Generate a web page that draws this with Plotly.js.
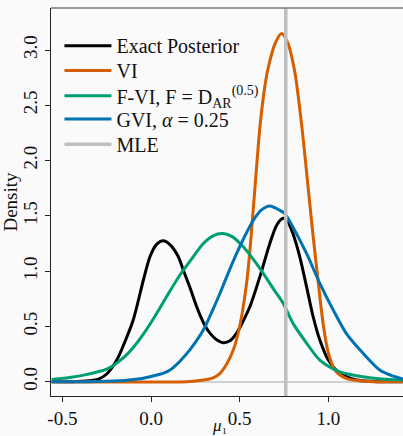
<!DOCTYPE html>
<html>
<head>
<meta charset="utf-8">
<script src="https://cdn.plot.ly/plotly-3.0.1.min.js"></script>
<style>
  html, body { margin: 0; padding: 0; background: #fafafa; }
  #chart { width: 403px; height: 436px; }
</style>
</head>
<body>
<div id="chart"></div>
<script>
// ---- Data ----
const exactX = [-0.56, -0.45, -0.35, -0.30, -0.25, -0.193, -0.15, -0.10, -0.043, -0.006, 0.03, 0.069, 0.107, 0.154, 0.182, 0.22, 0.257, 0.30, 0.332, 0.37, 0.407, 0.445, 0.483, 0.52, 0.558, 0.614, 0.67, 0.71, 0.745, 0.77, 0.80, 0.839, 0.877, 0.914, 0.952, 1.0, 1.065, 1.16, 1.25, 1.42];
const exactY = [0.0, 0.001, 0.008, 0.02, 0.07, 0.196, 0.35, 0.56, 0.92, 1.13, 1.24, 1.275, 1.24, 1.13, 1.01, 0.85, 0.68, 0.52, 0.44, 0.38, 0.353, 0.37, 0.44, 0.55, 0.68, 0.95, 1.25, 1.42, 1.478, 1.45, 1.34, 1.13, 0.86, 0.59, 0.377, 0.196, 0.076, 0.015, 0.003, 0.0];

const viX = [-0.56, 0.2, 0.295, 0.35, 0.389, 0.43, 0.464, 0.50, 0.539, 0.558, 0.573, 0.586, 0.614, 0.64, 0.661, 0.70, 0.736, 0.77, 0.811, 0.849, 0.877, 0.896, 0.914, 0.943, 0.971, 1.0, 1.037, 1.10, 1.2, 1.42];
const viY = [0.0, 0.001, 0.015, 0.035, 0.076, 0.17, 0.287, 0.50, 0.89, 1.19, 1.49, 1.75, 2.30, 2.65, 2.84, 3.06, 3.15, 3.07, 2.80, 2.33, 1.90, 1.60, 1.32, 0.90, 0.52, 0.26, 0.106, 0.03, 0.005, 0.0];

const fviX = [-0.56, -0.45, -0.38, -0.30, -0.25, -0.21, -0.15, -0.10, -0.05, -0.006, 0.04, 0.088, 0.163, 0.22, 0.295, 0.35, 0.407, 0.46, 0.52, 0.58, 0.633, 0.69, 0.745, 0.80, 0.877, 0.952, 1.065, 1.196, 1.30, 1.42];
const fviY = [0.02, 0.04, 0.06, 0.09, 0.115, 0.15, 0.225, 0.31, 0.415, 0.52, 0.64, 0.77, 0.965, 1.09, 1.25, 1.32, 1.34, 1.31, 1.22, 1.10, 0.98, 0.84, 0.71, 0.53, 0.35, 0.196, 0.09, 0.045, 0.025, 0.015];

const gviX = [-0.56, -0.3, -0.15, -0.05, -0.006, 0.05, 0.088, 0.107, 0.13, 0.163, 0.22, 0.295, 0.34, 0.389, 0.44, 0.483, 0.53, 0.577, 0.62, 0.67, 0.727, 0.755, 0.80, 0.877, 0.952, 1.027, 1.10, 1.196, 1.29, 1.35, 1.42];
const gviY = [0.0, 0.003, 0.012, 0.03, 0.045, 0.068, 0.09, 0.106, 0.135, 0.185, 0.29, 0.467, 0.62, 0.80, 1.0, 1.16, 1.32, 1.46, 1.55, 1.59, 1.55, 1.52, 1.40, 1.16, 0.89, 0.65, 0.44, 0.257, 0.106, 0.06, 0.025];

const mleValue = 0.76;

const seriesNames = ["Exact Posterior", "VI", "F-VI, F = D<sub>AR</sub><sup>(0.5)</sup>", "GVI, <i>α</i> = 0.25", "MLE"];
const xTitle = "<i>μ</i>₁";
const yTitle = "Density";
const xTickVals = [-0.5, 0.0, 0.5, 1.0];
const xTickText = ["-0.5", "0.0", "0.5", "1.0"];
const yTickVals = [0.0, 0.5, 1.0, 1.5, 2.0, 2.5, 3.0];
const yTickText = ["0.0", "0.5", "1.0", "1.5", "2.0", "2.5", "3.0"];
const xRange = [-0.564, 1.421];
const yRange = [-0.129, 3.38];

const colors = ["#000000", "#d55e00", "#009e73", "#0072b2", "#c0c0c0"];
const legendIds = ["legend", "legend2", "legend3", "legend4", "legend5"];
const legendRowY = [0.903, 0.839, 0.774, 0.714, 0.649];

function curve(x, y, i) {
  return { x: x, y: y, name: seriesNames[i], type: "scatter", mode: "lines", legend: legendIds[i],
    line: { color: colors[i], width: 3, shape: "spline", smoothing: 0.8 },
    hoverinfo: "skip" };
}

const traces = [
  curve(exactX, exactY, 0),
  curve(viX, viY, 1),
  curve(fviX, fviY, 2),
  curve(gviX, gviY, 3),
  { x: [mleValue, mleValue], y: yRange, name: seriesNames[4], type: "scatter", mode: "lines",
    legend: legendIds[4], line: { color: colors[4], width: 3.5 }, hoverinfo: "skip" }
];

const font = "Liberation Serif, Times New Roman, serif";

const layout = {
  width: 403, height: 436,
  paper_bgcolor: "#fafafa",
  plot_bgcolor: "#fafafa",
  font: { family: font, size: 19, color: "#111" },
  margin: { l: 51, r: 0, t: 8, b: 40, pad: 0 },
  showlegend: true,
  xaxis: {
    range: xRange, tickvals: xTickVals, ticktext: xTickText,
    showgrid: false, zeroline: false,
    showline: true, linecolor: "#222", linewidth: 1.3,
    ticks: "outside", ticklen: 5, tickwidth: 1, tickcolor: "#222",
    tickfont: { family: font, size: 19, color: "#111" }
  },
  yaxis: {
    range: yRange, tickvals: yTickVals, ticktext: yTickText,
    showgrid: false, zeroline: true, zerolinecolor: "#d0d0d0", zerolinewidth: 2,
    showline: true, linecolor: "#222", linewidth: 1.3,
    ticks: "outside", ticklen: 5, tickwidth: 1, tickcolor: "#222", tickangle: -90,
    tickfont: { family: font, size: 19, color: "#111" },
    title: { text: yTitle, font: { family: font, size: 19, color: "#111" }, standoff: 0 }
  },
  annotations: [
    { text: xTitle, xref: "paper", yref: "paper", x: 0.478, y: -0.102,
      xanchor: "center", yanchor: "bottom", showarrow: false, borderpad: 0,
      font: { family: font, size: 17, color: "#111" } }
  ],
  shapes: [
    { type: "line", xref: "paper", yref: "paper", x0: 0, x1: 1, y0: 1, y1: 1,
      line: { color: "#777", width: 1.3 } }
  ]
};

legendIds.forEach(function (id, i) {
  layout[id] = { x: 0.024, y: legendRowY[i], xanchor: "left", yanchor: "middle",
    bgcolor: "rgba(0,0,0,0)", borderwidth: 0, itemwidth: 47,
    font: { family: font, size: 20, color: "#111" } };
});

Plotly.newPlot("chart", traces, layout, { staticPlot: true, displayModeBar: false });
</script>
</body>
</html>
